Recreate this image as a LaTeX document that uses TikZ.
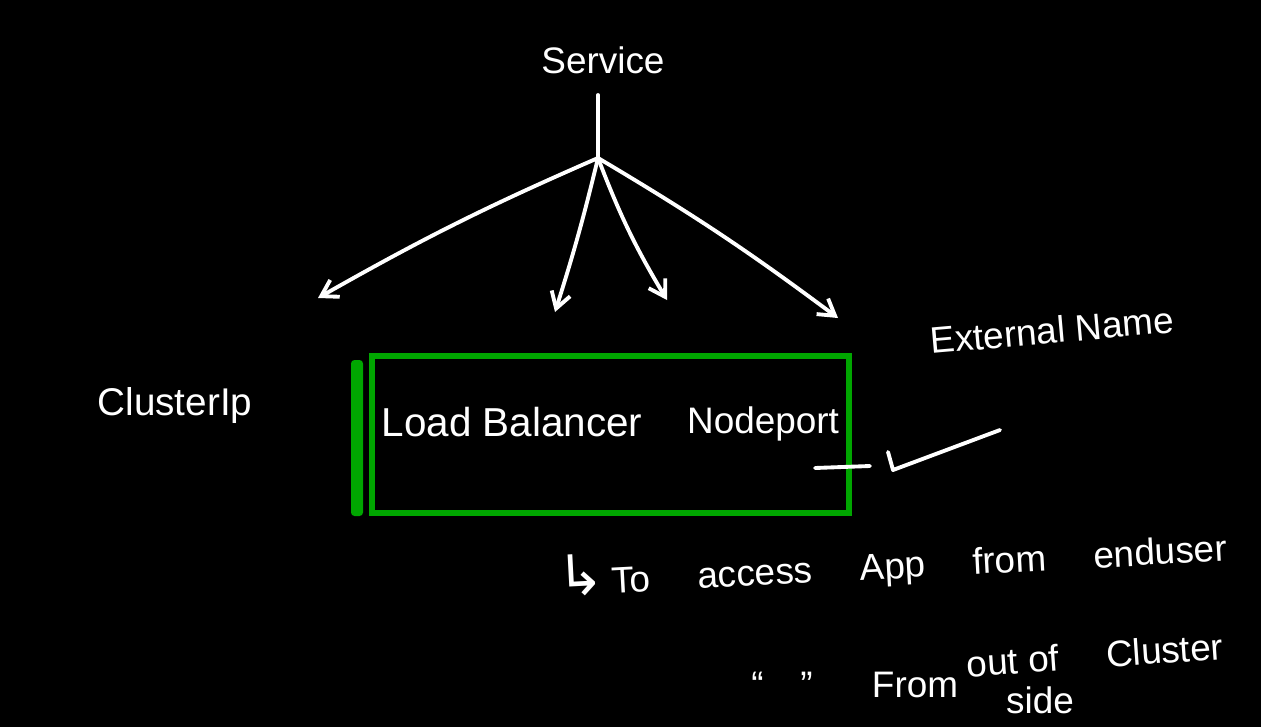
\documentclass[tikz,border=0pt]{standalone}
\usepackage{fontspec}
\setmainfont{Liberation Sans}
\newfontfamily\symfont{DejaVu Sans}
\usetikzlibrary{arrows.meta, positioning}
\definecolor{boardgreen}{HTML}{00A600}
\newcommand{\gap}{\hspace{27pt}}

\begin{document}
\begin{tikzpicture}[x=0.02cm, y=-0.02cm,
    chalk/.style={white, line width=2.2pt, line cap=round, line join=round},
    branch/.style={chalk, -{Straight Barb[length=9pt, width=11pt, line width=2.2pt]}},
    handtext/.style={text=white, inner sep=0pt, font=\fontsize{21}{25}\selectfont}]
    \fill[black] (0,0) rectangle (1261,727);

    \node[handtext] (svc) at (603,60) {Service};
    \coordinate (hub) at (598,158);
    \coordinate (cip) at (318,298);
    \coordinate (lb) at (555,312);
    \coordinate (np) at (667,300);
    \coordinate (ext) at (838,318);
    \draw[chalk, shorten <=12pt] (svc.south -| hub) -- (hub);
    \draw[branch] (hub) to[bend right=3] (cip);
    \draw[branch] (hub) to[bend left=2] (lb);
    \draw[branch] (hub) to[bend right=5] (np);
    \draw[branch] (hub) to[bend left=3] (ext);

    \node[handtext, font=\fontsize{22}{26}\selectfont] (cluster) at (175,405) {ClusterIp};
    \fill[boardgreen, rounded corners=2pt] (351,360) rectangle (363,516);
    \draw[boardgreen, line width=3.5pt] (372,356) rectangle (849,513);
    \node[handtext, font=\fontsize{23}{27}\selectfont] (balancer) at (512,422) {Load Balancer};
    \node[handtext] (nodeport) at (763,424) {Nodeport};
    \node[handtext, rotate=5] (extname) at (1052,330) {External Name};

    \coordinate (dash1) at (815,468);
    \coordinate (dash2) at (870,466);
    \draw[chalk] (dash1) -- (dash2);
    \draw[chalk] (888,452) -- (893,470) -- (1000,430);

    \node[handtext, rotate=3] (enduser) at (892,562) {{\symfont\fontsize{32}{32}\selectfont ↳}\hspace{4pt}To\gap access\gap App\gap from\gap enduser};
    \node[handtext] (ditto) at (782,685) {``\quad''};
    \node[handtext] (from) at (915,685) {From};
    \node[handtext, rotate=4] (outof) at (1095,655) {out of\gap Cluster};
    \node[handtext] (side) at (1040,700) {side};
\end{tikzpicture}
\end{document}
